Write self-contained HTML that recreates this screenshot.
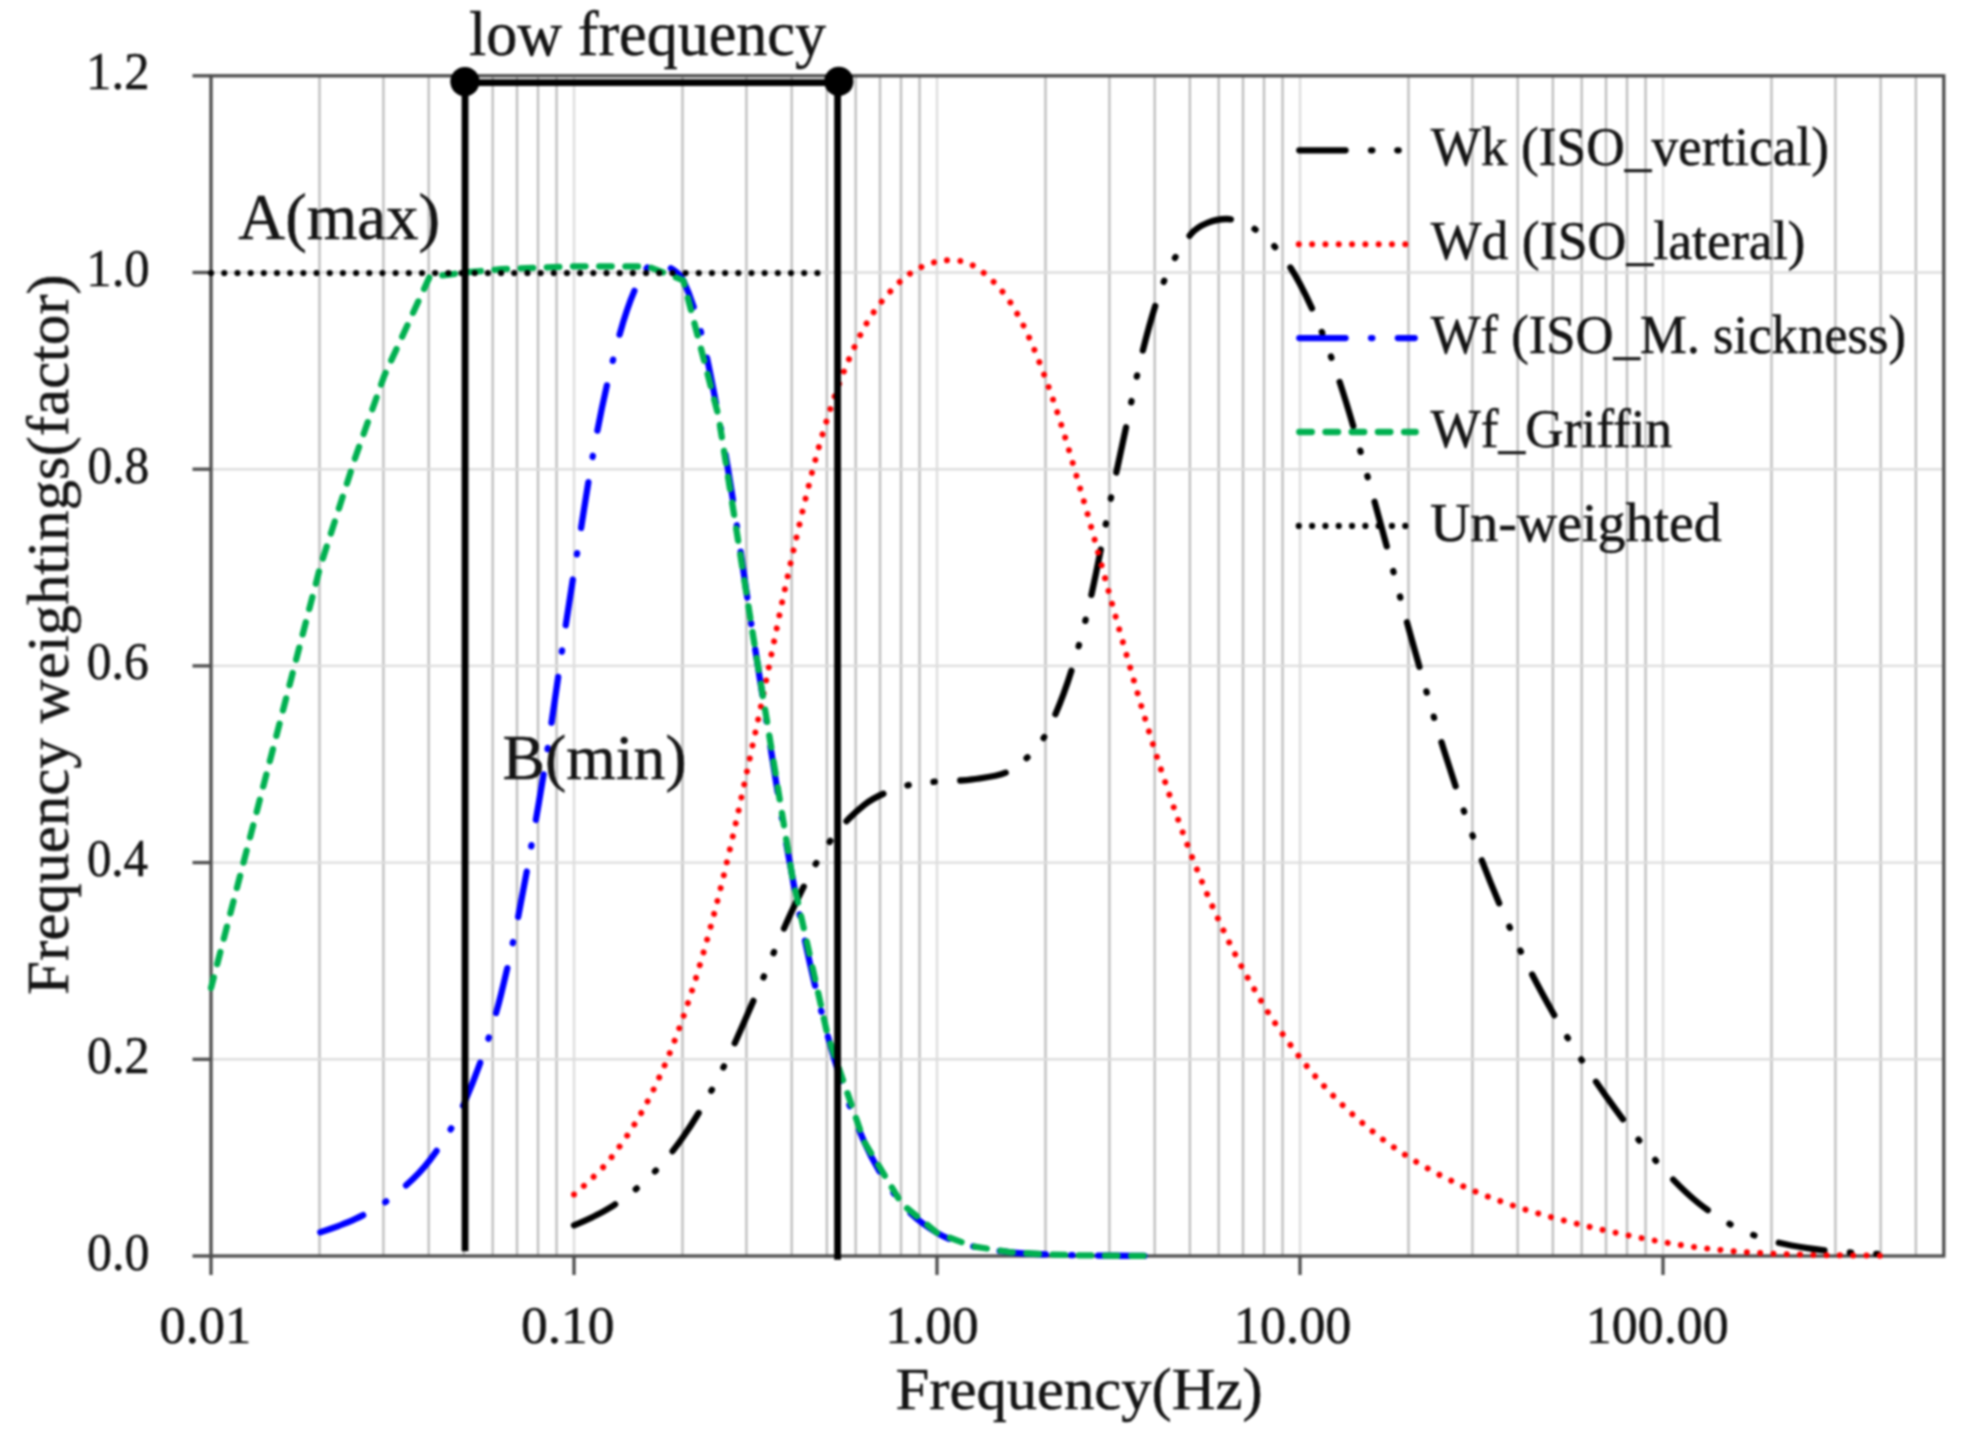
<!DOCTYPE html>
<html lang="en"><head><meta charset="utf-8"><title>Frequency weightings</title>
<style>html,body{margin:0;padding:0;background:#fff}svg{display:block}text{font-family:"Liberation Serif", serif;fill:#141414;stroke:#141414;stroke-width:0.5px}</style>
</head><body>
<svg width="1968" height="1435" viewBox="0 0 1968 1435">
<defs><filter id="soft" color-interpolation-filters="sRGB" x="0" y="0" width="1968" height="1435" filterUnits="userSpaceOnUse" primitiveUnits="userSpaceOnUse"><feGaussianBlur stdDeviation="0.8"/></filter></defs>
<rect width="1968" height="1435" fill="#fff"/>
<g filter="url(#soft)">
<g><line x1="319.5" y1="75.8" x2="319.5" y2="1256.0" stroke="#bfbfbf" stroke-width="2.4"/><line x1="383.4" y1="75.8" x2="383.4" y2="1256.0" stroke="#bfbfbf" stroke-width="2.4"/><line x1="428.7" y1="75.8" x2="428.7" y2="1256.0" stroke="#bfbfbf" stroke-width="2.4"/><line x1="463.9" y1="75.8" x2="463.9" y2="1256.0" stroke="#bfbfbf" stroke-width="2.4"/><line x1="492.7" y1="75.8" x2="492.7" y2="1256.0" stroke="#bfbfbf" stroke-width="2.4"/><line x1="517.0" y1="75.8" x2="517.0" y2="1256.0" stroke="#bfbfbf" stroke-width="2.4"/><line x1="538.0" y1="75.8" x2="538.0" y2="1256.0" stroke="#bfbfbf" stroke-width="2.4"/><line x1="556.6" y1="75.8" x2="556.6" y2="1256.0" stroke="#bfbfbf" stroke-width="2.4"/><line x1="574.0" y1="75.8" x2="574.0" y2="1256.0" stroke="#dddddd" stroke-width="2.4"/><line x1="682.5" y1="75.8" x2="682.5" y2="1256.0" stroke="#bfbfbf" stroke-width="2.4"/><line x1="746.4" y1="75.8" x2="746.4" y2="1256.0" stroke="#bfbfbf" stroke-width="2.4"/><line x1="791.7" y1="75.8" x2="791.7" y2="1256.0" stroke="#bfbfbf" stroke-width="2.4"/><line x1="826.9" y1="75.8" x2="826.9" y2="1256.0" stroke="#bfbfbf" stroke-width="2.4"/><line x1="855.7" y1="75.8" x2="855.7" y2="1256.0" stroke="#bfbfbf" stroke-width="2.4"/><line x1="880.0" y1="75.8" x2="880.0" y2="1256.0" stroke="#bfbfbf" stroke-width="2.4"/><line x1="901.0" y1="75.8" x2="901.0" y2="1256.0" stroke="#bfbfbf" stroke-width="2.4"/><line x1="919.6" y1="75.8" x2="919.6" y2="1256.0" stroke="#bfbfbf" stroke-width="2.4"/><line x1="937.0" y1="75.8" x2="937.0" y2="1256.0" stroke="#dddddd" stroke-width="2.4"/><line x1="1045.5" y1="75.8" x2="1045.5" y2="1256.0" stroke="#bfbfbf" stroke-width="2.4"/><line x1="1109.4" y1="75.8" x2="1109.4" y2="1256.0" stroke="#bfbfbf" stroke-width="2.4"/><line x1="1154.7" y1="75.8" x2="1154.7" y2="1256.0" stroke="#bfbfbf" stroke-width="2.4"/><line x1="1189.9" y1="75.8" x2="1189.9" y2="1256.0" stroke="#bfbfbf" stroke-width="2.4"/><line x1="1218.7" y1="75.8" x2="1218.7" y2="1256.0" stroke="#bfbfbf" stroke-width="2.4"/><line x1="1243.0" y1="75.8" x2="1243.0" y2="1256.0" stroke="#bfbfbf" stroke-width="2.4"/><line x1="1264.0" y1="75.8" x2="1264.0" y2="1256.0" stroke="#bfbfbf" stroke-width="2.4"/><line x1="1282.6" y1="75.8" x2="1282.6" y2="1256.0" stroke="#bfbfbf" stroke-width="2.4"/><line x1="1300.0" y1="75.8" x2="1300.0" y2="1256.0" stroke="#dddddd" stroke-width="2.4"/><line x1="1408.5" y1="75.8" x2="1408.5" y2="1256.0" stroke="#bfbfbf" stroke-width="2.4"/><line x1="1472.4" y1="75.8" x2="1472.4" y2="1256.0" stroke="#bfbfbf" stroke-width="2.4"/><line x1="1517.7" y1="75.8" x2="1517.7" y2="1256.0" stroke="#bfbfbf" stroke-width="2.4"/><line x1="1552.9" y1="75.8" x2="1552.9" y2="1256.0" stroke="#bfbfbf" stroke-width="2.4"/><line x1="1581.7" y1="75.8" x2="1581.7" y2="1256.0" stroke="#bfbfbf" stroke-width="2.4"/><line x1="1606.0" y1="75.8" x2="1606.0" y2="1256.0" stroke="#bfbfbf" stroke-width="2.4"/><line x1="1627.0" y1="75.8" x2="1627.0" y2="1256.0" stroke="#bfbfbf" stroke-width="2.4"/><line x1="1645.6" y1="75.8" x2="1645.6" y2="1256.0" stroke="#bfbfbf" stroke-width="2.4"/><line x1="1663.0" y1="75.8" x2="1663.0" y2="1256.0" stroke="#dddddd" stroke-width="2.4"/><line x1="1771.5" y1="75.8" x2="1771.5" y2="1256.0" stroke="#bfbfbf" stroke-width="2.4"/><line x1="1835.4" y1="75.8" x2="1835.4" y2="1256.0" stroke="#bfbfbf" stroke-width="2.4"/><line x1="1880.7" y1="75.8" x2="1880.7" y2="1256.0" stroke="#bfbfbf" stroke-width="2.4"/><line x1="1915.9" y1="75.8" x2="1915.9" y2="1256.0" stroke="#bfbfbf" stroke-width="2.4"/><line x1="211.0" y1="1059.3" x2="1943.8" y2="1059.3" stroke="#dddddd" stroke-width="2.4"/><line x1="211.0" y1="862.6" x2="1943.8" y2="862.6" stroke="#dddddd" stroke-width="2.4"/><line x1="211.0" y1="665.9" x2="1943.8" y2="665.9" stroke="#dddddd" stroke-width="2.4"/><line x1="211.0" y1="469.2" x2="1943.8" y2="469.2" stroke="#dddddd" stroke-width="2.4"/><line x1="211.0" y1="272.5" x2="1943.8" y2="272.5" stroke="#dddddd" stroke-width="2.4"/></g>
<rect x="211.0" y="75.8" width="1732.8" height="1180.2" fill="none" stroke="#4d4d4d" stroke-width="3.3"/>
<g stroke="#4d4d4d" stroke-width="3.3"><line x1="192.5" y1="1256.0" x2="211.0" y2="1256.0"/><line x1="192.5" y1="1059.3" x2="211.0" y2="1059.3"/><line x1="192.5" y1="862.6" x2="211.0" y2="862.6"/><line x1="192.5" y1="665.9" x2="211.0" y2="665.9"/><line x1="192.5" y1="469.2" x2="211.0" y2="469.2"/><line x1="192.5" y1="272.5" x2="211.0" y2="272.5"/><line x1="192.5" y1="75.8" x2="211.0" y2="75.8"/><line x1="211.0" y1="1256.0" x2="211.0" y2="1275.0"/><line x1="574.0" y1="1256.0" x2="574.0" y2="1275.0"/><line x1="937.0" y1="1256.0" x2="937.0" y2="1275.0"/><line x1="1300.0" y1="1256.0" x2="1300.0" y2="1275.0"/><line x1="1663.0" y1="1256.0" x2="1663.0" y2="1275.0"/></g>
<g fill="none" stroke-linecap="round" stroke-linejoin="round">
<path d="M574.00 1225.30 C574.00 1225.30 598.22 1215.13 609.18 1208.18 C622.92 1199.46 636.39 1189.58 648.10 1178.30 C661.08 1165.78 672.94 1151.61 683.27 1136.77 C696.40 1117.93 707.94 1097.73 718.45 1077.27 C731.81 1051.28 743.05 1024.17 754.89 997.41 C767.75 968.32 778.87 938.41 792.55 909.73 C803.15 887.49 813.92 864.86 827.73 844.66 C837.79 829.92 850.24 815.75 864.16 804.90 C874.94 796.50 888.72 791.11 901.82 786.89 C913.00 783.30 925.22 782.73 937.00 781.49 C948.67 780.25 960.62 781.25 972.18 779.45 C985.32 777.39 1000.20 776.69 1011.10 769.91 C1024.89 761.32 1038.57 748.04 1046.27 733.36 C1062.02 703.37 1072.56 669.19 1081.45 635.89 C1096.43 579.83 1105.19 522.03 1117.89 465.29 C1129.89 411.66 1139.12 356.88 1155.55 304.78 C1163.40 279.89 1174.83 253.35 1190.73 234.31 C1198.70 224.76 1215.13 218.63 1227.16 219.02 C1239.83 219.43 1254.76 227.77 1264.82 236.73 C1279.04 249.40 1290.83 266.72 1300.00 283.90 C1314.28 310.67 1325.28 339.71 1335.18 368.58 C1349.98 411.73 1361.66 456.03 1374.10 499.98 C1386.36 543.36 1397.14 587.16 1409.27 630.57 C1420.59 671.07 1431.82 711.64 1444.45 751.74 C1455.69 787.42 1467.61 822.97 1480.89 857.93 C1492.30 887.98 1504.97 917.65 1518.55 946.79 C1529.25 969.76 1541.22 992.22 1553.73 1014.27 C1565.09 1034.29 1577.42 1053.81 1590.16 1072.99 C1602.12 1090.99 1614.74 1108.61 1627.82 1125.81 C1639.02 1140.53 1650.54 1155.10 1663.00 1168.74 C1674.00 1180.78 1685.48 1192.70 1698.18 1202.85 C1710.18 1212.45 1723.45 1220.96 1737.10 1228.00 C1748.15 1233.70 1760.29 1237.63 1772.27 1241.08 C1783.74 1244.37 1795.64 1246.41 1807.45 1248.23 C1819.51 1250.08 1831.72 1251.12 1843.89 1252.09 C1856.41 1253.08 1881.55 1254.08 1881.55 1254.08" stroke="#000" stroke-width="6.3" stroke-dasharray="46.26 25.51 1.27 25.01 1.27 25.51"/>
<path d="M574.00 1194.61 C574.00 1194.61 599.12 1173.12 609.18 1160.32 C623.82 1141.71 637.20 1121.46 648.10 1100.38 C661.90 1073.66 673.42 1045.40 683.27 1016.91 C696.88 977.56 708.20 937.26 718.45 896.87 C732.07 843.22 743.17 788.90 754.89 734.78 C767.87 674.81 778.83 614.39 792.55 554.59 C803.11 508.54 813.53 462.22 827.73 417.25 C837.40 386.59 848.99 355.80 864.16 327.72 C873.69 310.07 887.14 293.37 901.82 280.05 C911.42 271.35 924.59 264.31 937.00 261.66 C948.05 259.31 962.50 259.55 972.18 265.03 C987.19 273.53 1001.38 288.48 1011.10 303.61 C1026.08 326.95 1036.48 354.10 1046.27 380.45 C1059.93 417.18 1070.40 455.19 1081.45 492.85 C1094.27 536.56 1105.39 580.77 1117.89 624.58 C1130.09 667.33 1142.08 710.18 1155.55 752.53 C1166.36 786.52 1177.90 820.35 1190.73 853.62 C1201.77 882.24 1213.82 910.59 1227.16 938.21 C1238.52 961.74 1251.22 984.75 1264.82 1007.05 C1275.50 1024.56 1287.43 1041.42 1300.00 1057.62 C1310.89 1071.66 1322.70 1085.12 1335.18 1097.76 C1347.40 1110.14 1360.55 1121.74 1374.10 1132.66 C1385.25 1141.66 1397.17 1149.81 1409.27 1157.50 C1420.63 1164.71 1432.45 1171.27 1444.45 1177.35 C1456.33 1183.37 1468.55 1188.80 1480.89 1193.80 C1493.25 1198.82 1505.88 1203.24 1518.55 1207.41 C1530.16 1211.24 1541.93 1214.60 1553.73 1217.82 C1565.80 1221.12 1577.97 1224.10 1590.16 1226.97 C1602.67 1229.92 1615.23 1232.68 1627.82 1235.29 C1639.51 1237.71 1651.24 1240.04 1663.00 1242.09 C1674.69 1244.12 1686.41 1246.02 1698.18 1247.52 C1711.11 1249.16 1724.10 1250.46 1737.10 1251.53 C1748.80 1252.49 1760.54 1253.08 1772.27 1253.61 C1783.99 1254.15 1795.72 1254.47 1807.45 1254.76 C1819.59 1255.06 1831.74 1255.22 1843.89 1255.37 C1856.44 1255.53 1881.55 1255.69 1881.55 1255.69" stroke="#ff0000" stroke-width="6.0" stroke-dasharray="0.01 13.279"/>
<path d="M320.27 1232.21 C320.27 1232.21 344.23 1224.42 355.45 1218.94 C368.11 1212.77 380.87 1205.94 391.89 1197.24 C405.57 1186.45 418.98 1174.29 429.55 1160.47 C443.26 1142.53 455.79 1122.74 464.73 1101.94 C479.66 1067.21 492.04 1030.71 501.16 993.88 C516.73 931.03 527.78 866.83 538.82 802.91 C552.06 726.33 561.37 649.07 574.00 572.38 C584.82 506.67 593.54 440.23 609.18 375.71 C618.24 338.30 629.57 290.43 648.10 266.60 C654.27 258.65 677.41 267.93 683.27 280.36 C700.86 317.65 709.53 370.05 718.45 415.77 C733.40 492.31 742.53 570.05 754.89 647.14 C767.23 724.15 778.19 801.43 792.55 878.05 C802.47 930.98 813.62 983.89 827.73 1035.80 C837.49 1071.76 849.19 1107.70 864.16 1141.66 C873.89 1163.72 886.90 1185.18 901.82 1203.86 C911.18 1215.58 924.15 1225.14 937.00 1232.87 C947.60 1239.25 960.11 1243.02 972.18 1246.19 C984.81 1249.50 998.06 1250.83 1011.10 1252.29 C1022.76 1253.60 1034.54 1253.96 1046.27 1254.47 C1057.99 1254.99 1069.72 1255.17 1081.45 1255.37 C1093.60 1255.59 1105.74 1255.66 1117.89 1255.75 C1130.44 1255.84 1155.55 1255.90 1155.55 1255.90" stroke="#0000ff" stroke-width="6.3" stroke-dasharray="46.26 25.51 1.27 25.51"/>
<path d="M211.00 988.00 L320.27 566.57 L355.45 457.00 L384.20 375.87 L429.55 276.93 L464.73 272.50 L501.16 269.16 L538.82 267.58 L574.00 266.30 L609.18 266.30 L648.10 266.60 L683.27 280.36 L718.45 415.77 L754.89 647.14 L792.55 878.05 L827.73 1035.80 L864.16 1141.66 L901.82 1203.86 L937.00 1232.87 L972.18 1246.19 L1011.10 1252.29 L1046.27 1254.47 L1081.45 1255.37 L1117.89 1255.75 L1155.55 1255.90" stroke="#00b050" stroke-width="6.3" stroke-dasharray="12.5 13.7" stroke-dashoffset="1.5"/>
<path d="M211.1 273.0 L819.0 273.0" stroke="#000" stroke-width="6.2" stroke-dasharray="0.01 13.17"/>
</g>
<g stroke="#000" fill="none" stroke-linejoin="miter">
<path d="M465.05 1251.2 L465.05 82.6 L837.6 82.6 L837.6 1259.8" stroke-width="6.8"/>
</g>
<circle cx="464.9" cy="81.6" r="14.6" fill="#000"/><circle cx="838.8" cy="81.4" r="14.6" fill="#000"/>
<g fill="none" stroke-linecap="round">
<path d="M1299.3 150.3 L1414.7 150.3" stroke="#000" stroke-width="6.3" stroke-dasharray="46.26 25.51 1.27 25.01 1.27 25.51"/>
<path d="M1298.8 244.2 L1406.0 244.2" stroke="#ff0000" stroke-width="6.0" stroke-dasharray="0.01 13.3"/>
<path d="M1299.3 338.1 L1414.7 338.1" stroke="#0000ff" stroke-width="6.3" stroke-dasharray="46.26 25.51 1.27 25.51"/>
<path d="M1299.3 432.0 L1415.7 432.0" stroke="#00b050" stroke-width="6.3" stroke-dasharray="12.5 13.7"/>
<path d="M1298.8 525.9 L1406.0 525.9" stroke="#000" stroke-width="6.2" stroke-dasharray="0.01 13.3"/>
</g>
<text x="1430.8" y="165.0" font-size="55.0" textLength="398.2" lengthAdjust="spacingAndGlyphs">Wk (ISO_vertical)</text>
<text x="1430.8" y="258.9" font-size="55.0" textLength="374.7" lengthAdjust="spacingAndGlyphs">Wd (ISO_lateral)</text>
<text x="1430.8" y="352.8" font-size="55.0" textLength="475.3" lengthAdjust="spacingAndGlyphs">Wf (ISO_M. sickness)</text>
<text x="1430.6" y="446.7" font-size="55.0" textLength="241.5" lengthAdjust="spacingAndGlyphs">Wf_Griffin</text>
<text x="1429.9" y="540.6" font-size="55.0" textLength="291.8" lengthAdjust="spacingAndGlyphs">Un-weighted</text>
<text x="87.0" y="1269.5" font-size="52.0" textLength="62.4" lengthAdjust="spacingAndGlyphs">0.0</text>
<text x="86.9" y="1072.8" font-size="52.0" textLength="62.8" lengthAdjust="spacingAndGlyphs">0.2</text>
<text x="86.9" y="876.1" font-size="52.0" textLength="61.2" lengthAdjust="spacingAndGlyphs">0.4</text>
<text x="86.8" y="679.4" font-size="52.0" textLength="61.9" lengthAdjust="spacingAndGlyphs">0.6</text>
<text x="87.5" y="482.7" font-size="52.0" textLength="61.7" lengthAdjust="spacingAndGlyphs">0.8</text>
<text x="86.3" y="286.0" font-size="52.0" textLength="63.4" lengthAdjust="spacingAndGlyphs">1.0</text>
<text x="86.1" y="89.3" font-size="52.0" textLength="63.4" lengthAdjust="spacingAndGlyphs">1.2</text>
<text x="159.4" y="1343.3" font-size="52.0" textLength="92.0" lengthAdjust="spacingAndGlyphs">0.01</text>
<text x="520.9" y="1343.3" font-size="52.0" textLength="93.6" lengthAdjust="spacingAndGlyphs">0.10</text>
<text x="885.2" y="1343.3" font-size="52.0" textLength="93.5" lengthAdjust="spacingAndGlyphs">1.00</text>
<text x="1233.8" y="1343.3" font-size="52.0" textLength="117.6" lengthAdjust="spacingAndGlyphs">10.00</text>
<text x="1585.8" y="1343.3" font-size="52.0" textLength="142.9" lengthAdjust="spacingAndGlyphs">100.00</text>
<text x="895.6" y="1408.7" font-size="59.0" textLength="367.1" lengthAdjust="spacingAndGlyphs">Frequency(Hz)</text>
<text transform="translate(67.9 992.9) rotate(-90)" x="-1.9" y="0" font-size="59.5" textLength="720.5" lengthAdjust="spacingAndGlyphs">Frequency weightings(factor)</text>
<text x="469.0" y="54.7" font-size="62.5" textLength="357.0" lengthAdjust="spacingAndGlyphs">low frequency</text>
<text x="238.3" y="238.5" font-size="65.0" textLength="201.8" lengthAdjust="spacingAndGlyphs">A(max)</text>
<text x="502.6" y="778.7" font-size="64.0" textLength="184.0" lengthAdjust="spacingAndGlyphs">B(min)</text>
</g>
</svg></body></html>
